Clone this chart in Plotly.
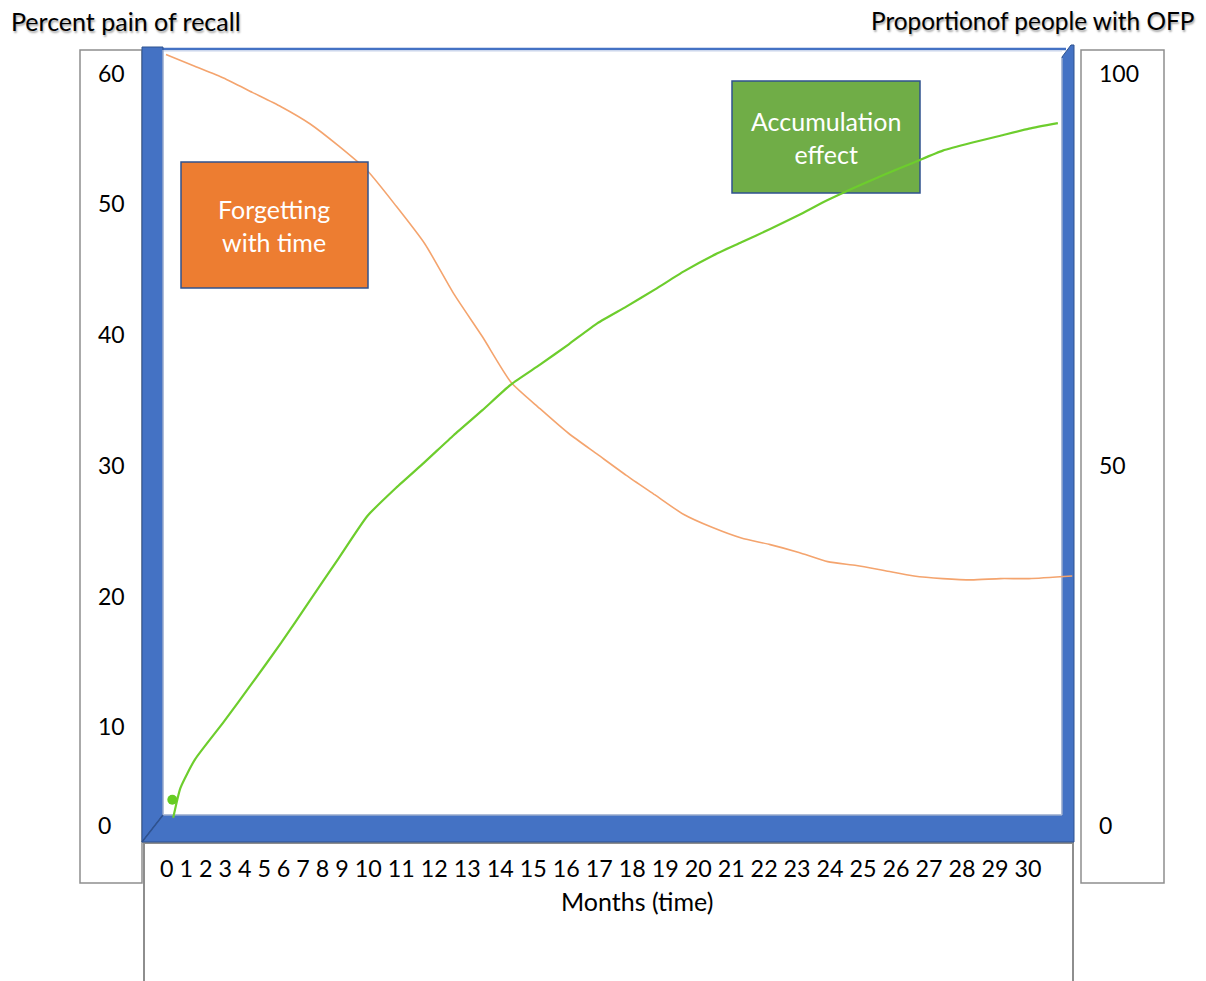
import plotly.graph_objects as go

W, H = 1206, 981

# ---- data -------------------------------------------------------------
months = list(range(0, 31))
month_labels = [str(m) for m in months]

# Forgetting with time: percent pain of recall (left axis)
recall_months = months + [31.5]
recall_pct = [61.4, 60.5, 59.6, 58.5, 57.4, 56.1, 54.4, 52.5, 49.8, 46.9,
              43.1, 39.8, 36.3, 34.3, 32.4, 30.8, 29.2, 27.7, 26.2, 25.2,
              24.4, 23.9, 23.3, 22.6, 22.3, 21.9, 21.5, 21.3, 21.2, 21.3,
              21.3, 21.5]

# Accumulation effect: proportion of people with OFP (right axis)
ofp_months = [0.25, 0.5] + months[1:] + [31]
ofp_prop = [5.0, 8.8,
            12.4, 17.2, 22.2, 27.3, 32.7, 38.1, 43.5, 47.1, 50.4, 53.8,
            57.0, 60.3, 62.8, 65.4, 68.1, 70.2, 72.4, 74.7, 76.7, 78.4,
            80.1, 81.9, 83.8, 85.5, 87.1, 88.6, 90.1, 91.1, 92.0, 92.9,
            93.6]
ofp_start_month = [0.22]
ofp_start_prop = [7.3]

left_ticks = [0, 10, 20, 30, 40, 50, 60]
right_ticks = [0, 50, 100]

# ---- frame geometry (pixels on the page) ------------------------------
PL, PR, PT, PB = 142, 1074, 47, 857          # plot area edges


def fx(x):
    return (x - PL) / (PR - PL)


def fy(y):
    return (PB - y) / (PB - PT)


def path(points):
    s = "M " + " L ".join(f"{fx(x):.5f},{fy(y):.5f}" for x, y in points)
    return s + " Z"


BLUE = "#4472C4"
BLUE_EDGE = "#2F528F"
GREY = "#8E8E8E"
FONT = "Lato"

fig = go.Figure()

fig.add_trace(go.Scatter(
    x=recall_months, y=recall_pct, mode="lines", yaxis="y",
    line=dict(color="#F4A46E", width=1.6, shape="spline", smoothing=0.6),
    hoverinfo="skip", showlegend=False))

fig.add_trace(go.Scatter(
    x=ofp_months, y=ofp_prop, mode="lines", yaxis="y2",
    line=dict(color="#6DCD2D", width=2.2, shape="spline", smoothing=0.5),
    hoverinfo="skip", showlegend=False))

fig.add_trace(go.Scatter(
    x=ofp_start_month, y=ofp_start_prop, mode="markers", yaxis="y2",
    marker=dict(color="#66CC22", size=10),
    hoverinfo="skip", showlegend=False))

shapes = []


def rect(x0, y0, x1, y1, fill, line, width, layer="below"):
    shapes.append(dict(type="rect", xref="paper", yref="paper",
                       x0=fx(x0), x1=fx(x1), y0=fy(y1), y1=fy(y0),
                       fillcolor=fill, line=dict(color=line, width=width),
                       layer=layer))


def poly(points, fill, line, width, layer="below"):
    shapes.append(dict(type="path", xref="paper", yref="paper",
                       path=path(points), fillcolor=fill,
                       line=dict(color=line, width=width), layer=layer))


def seg(x0, y0, x1, y1, color, width, layer="below"):
    shapes.append(dict(type="line", xref="paper", yref="paper",
                       x0=fx(x0), y0=fy(y0), x1=fx(x1), y1=fy(y1),
                       line=dict(color=color, width=width), layer=layer))


# label boxes around the axes
rect(80, 50, 142, 883, "white", GREY, 1.5)
rect(1081, 50, 1164, 883, "white", GREY, 1.5)
rect(144, 843, 1073, 995, "white", GREY, 2)

# callout box behind the rising curve
rect(732, 81, 920, 193, "#70AD47", BLUE_EDGE, 1.5)

# top edge of the box
seg(142, 49, 1066, 49, BLUE, 2.5)
seg(163, 51, 1062, 51, "#C9D3EA", 1)

# back walls and floor
poly([(142, 47), (163, 47), (163, 815), (142, 842)], BLUE, BLUE_EDGE, 1)
poly([(142, 842), (163, 815), (1062, 815), (1062, 57), (1071, 45),
      (1074, 45), (1074, 842)], BLUE, BLUE_EDGE, 1)
seg(163, 815, 1062, 815, "#C9D3EA", 1)
seg(1062, 58, 1062, 815, "#C9D3EA", 1)
seg(163, 50, 163, 815, "#C9D3EA", 1)
seg(142, 842, 163, 815, BLUE_EDGE, 1.5)

# callout box drawn over the falling curve
rect(181, 162, 368, 288, "#ED7D31", BLUE_EDGE, 1.5, layer="above")

annotations = []


def text(s, x, y, size, color="black", xanchor="center", xref="paper",
         yref="paper", yshift=0, shadow="none"):
    annotations.append(dict(text=s, x=x, y=y, xref=xref, yref=yref,
                            xanchor=xanchor, yanchor="middle",
                            showarrow=False, yshift=yshift,
                            font=dict(family=FONT, size=size, color=color,
                                      shadow=shadow)))


TITLE_SHADOW = "1px 2px 2px rgba(0,0,0,0.35)"
text("Percent pain of recall", fx(9), fy(21), 25, xanchor="left",
     shadow=TITLE_SHADOW)
text("Proportionof people with OFP", fx(1196), fy(21), 24.4, xanchor="right",
     shadow=TITLE_SHADOW)

for v in left_ticks:
    text(str(v), fx(96), v, 23, xanchor="left", yref="y",
         yshift=32 if v == 0 else 0)
for v in right_ticks:
    text(str(v), fx(1097), v, 23, xanchor="left", yref="y2",
         yshift=32 if v == 0 else 0)

text(" ".join(month_labels), fx(158), fy(868), 23.3, xanchor="left")
text("Months (time)", fx(637), fy(901), 25)

text("Forgetting<br>with time", fx(274), fy(225), 25, color="white")
text("Accumulation<br>effect", fx(826), fy(137), 25, color="white")

hidden = dict(showgrid=False, zeroline=False, showticklabels=False,
              showline=False, ticks="", fixedrange=True)

fig.update_layout(
    width=W, height=H,
    margin=dict(l=PL, r=W - PR, t=PT, b=H - PB, autoexpand=False),
    paper_bgcolor="white", plot_bgcolor="white",
    xaxis=dict(range=[-0.834, 31.561], **hidden),
    yaxis=dict(range=[0, 61.97], **hidden),
    yaxis2=dict(range=[0, 103.32], overlaying="y", side="right", **hidden),
    shapes=shapes, annotations=annotations, showlegend=False,
)

fig.write_html("out.html")
